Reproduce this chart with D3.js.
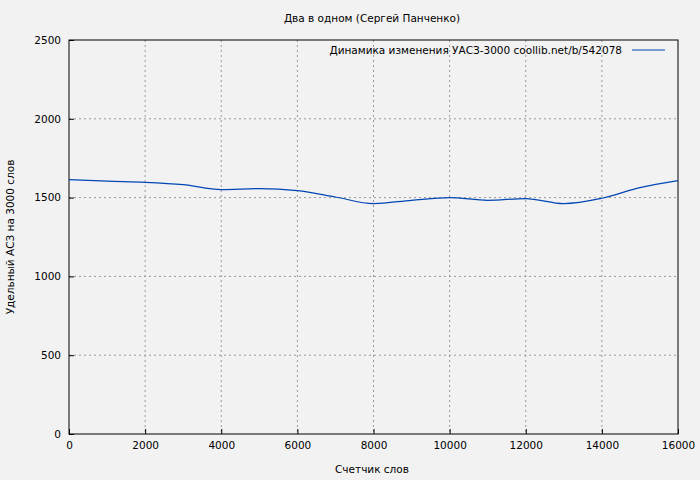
<!DOCTYPE html>
<html><head><meta charset="utf-8">
<script src="https://cdn.jsdelivr.net/npm/d3@7"></script>
<style>body{margin:0;background:#f2f2f2}text{font-family:"DejaVu Sans",sans-serif}</style>
</head><body><svg id="c" width="700" height="480"></svg>
<script>
const words = [0,1000,2000,3000,4000,5000,6000,7000,8000,9000,10000,11000,12000,13000,14000,15000,16000];
const uasz = [1614,1604,1597,1582,1551,1557,1544,1504,1462,1483,1500,1483,1494,1462,1496,1563,1608];
const xTicks = [0,2000,4000,6000,8000,10000,12000,14000,16000];
const yTicks = [0,500,1000,1500,2000,2500];

const M = {TOP: 40, RIGHT: 22, BOTTOM: 46, LEFT: 69};
const W = 700 - M.LEFT - M.RIGHT, H = 480 - M.TOP - M.BOTTOM;
const svg = d3.select("#c");
svg.append("rect").attr("width",700).attr("height",480).attr("fill","#f2f2f2");
const g = svg.append("g").attr("transform",`translate(${M.LEFT},${M.TOP})`);

const x = d3.scaleLinear().domain([0,16000]).range([0,W]);
const y = d3.scaleLinear().domain([0,2500]).range([H,0]);

// grid
g.selectAll(".gx").data(xTicks.slice(1,-1)).join("line")
  .attr("x1",d=>x(d)).attr("x2",d=>x(d)).attr("y1",0).attr("y2",H)
  .attr("stroke","#999").attr("stroke-dasharray","2,3");
g.selectAll(".gy").data(yTicks.slice(1,-1)).join("line")
  .attr("y1",d=>y(d)).attr("y2",d=>y(d)).attr("x1",0).attr("x2",W)
  .attr("stroke","#999").attr("stroke-dasharray","2,3");

g.append("rect").attr("width",W).attr("height",H).attr("fill","none").attr("stroke","#000");

const ax = g.append("g").attr("transform",`translate(0,${H})`)
  .call(d3.axisBottom(x).tickValues(xTicks).tickSize(-5).tickPadding(8).tickFormat(d3.format("d")));
const ay = g.append("g")
  .call(d3.axisLeft(y).tickValues(yTicks).tickSize(-5).tickPadding(8).tickFormat(d3.format("d")));
[ax,ay].forEach(a=>{a.select(".domain").remove();a.selectAll("text").attr("font-size",10.5).attr("font-family","DejaVu Sans").attr("fill","#000");});

g.append("path").datum(words.map((w,i)=>[w,uasz[i]]))
  .attr("fill","none").attr("stroke","#0046b4").attr("stroke-width",1.2)
  .attr("d",d3.line().x(d=>x(d[0])).y(d=>y(d[1])).curve(d3.curveMonotoneX));

svg.append("text").attr("x",372).attr("y",22).attr("text-anchor","middle").attr("font-size",10.5).text("Два в одном (Сергей Панченко)");
svg.append("text").attr("x",372).attr("y",473).attr("text-anchor","middle").attr("font-size",10.5).text("Счетчик слов");
svg.append("text").attr("transform","translate(14,237) rotate(-90)").attr("text-anchor","middle").attr("font-size",10.5).text("Удельный АСЗ на 3000 слов");
svg.append("text").attr("x",622).attr("y",54).attr("text-anchor","end").attr("font-size",10.5).text("Динамика изменения УАСЗ-3000  coollib.net/b/542078");
svg.append("line").attr("x1",632).attr("x2",665).attr("y1",50).attr("y2",50).attr("stroke","#0046b4").attr("stroke-width",1.2);
</script></body></html>
